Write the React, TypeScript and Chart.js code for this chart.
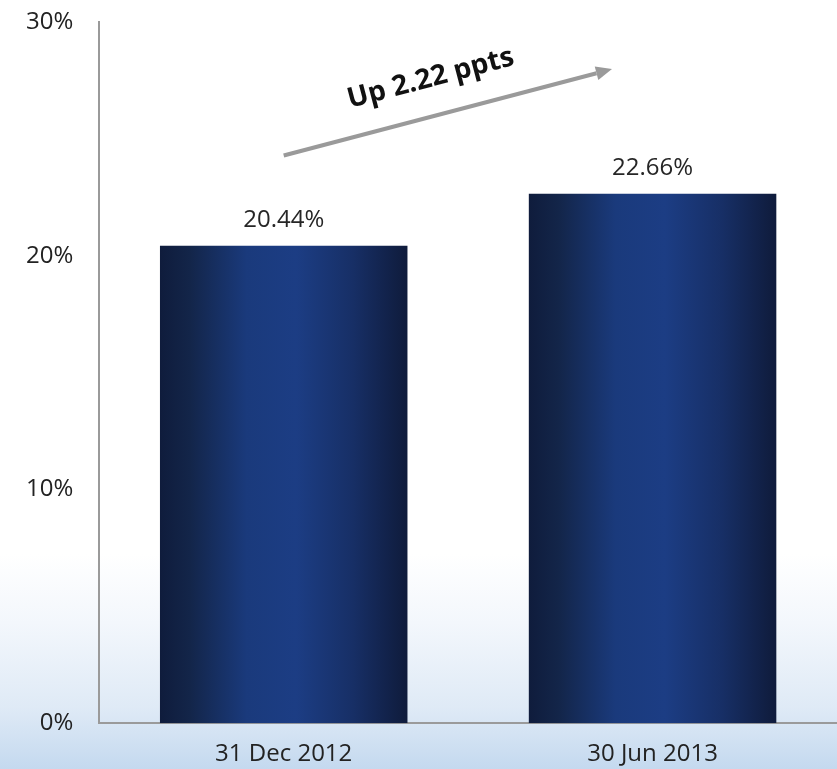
import React, { useEffect, useRef } from "react";
import { Chart, registerables } from "chart.js";

Chart.register(...registerables);

const categories = ["31 Dec 2012", "30 Jun 2013"];
const ratioValues = [20.44, 22.66];
const valueLabels = ["20.44%", "22.66%"];
const yTicks = [0, 10, 20, 30];
const arrowText = "Up 2.22 ppts";
// arrow endpoints in data space: [category index, value]
const arrowStart = [0, 24.3];
const arrowEnd = [0.89, 28.0];

const FONT = "'Open Sans', 'DejaVu Sans', sans-serif";
const BAR_PCT = 0.671;

const overlayPlugin = {
  id: "overlay",
  afterDatasetsDraw(chart: any) {
    const ctx = chart.ctx;
    const xs = chart.scales.x;
    const ys = chart.scales.y;
    ctx.save();
    // value labels
    ctx.font = `24px ${FONT}`;
    ctx.fillStyle = "#262626";
    ctx.textAlign = "center";
    ctx.textBaseline = "middle";
    const meta = chart.getDatasetMeta(0);
    meta.data.forEach((bar: any, i: number) => {
      ctx.fillText(valueLabels[i], bar.x, bar.y - 26);
    });
    // arrow
    const x1 = xs.getPixelForValue(arrowStart[0]);
    const y1 = ys.getPixelForValue(arrowStart[1]);
    const x2 = xs.getPixelForValue(arrowEnd[0]);
    const y2 = ys.getPixelForValue(arrowEnd[1]);
    const ang = Math.atan2(y2 - y1, x2 - x1);
    const head = 16;
    const hx = x2 - head * Math.cos(ang);
    const hy = y2 - head * Math.sin(ang);
    ctx.strokeStyle = "#9a9a9a";
    ctx.fillStyle = "#9a9a9a";
    ctx.lineWidth = 4;
    ctx.beginPath();
    ctx.moveTo(x1, y1);
    ctx.lineTo(hx, hy);
    ctx.stroke();
    ctx.beginPath();
    ctx.moveTo(x2, y2);
    ctx.lineTo(hx + 7 * Math.sin(ang), hy - 7 * Math.cos(ang));
    ctx.lineTo(hx - 7 * Math.sin(ang), hy + 7 * Math.cos(ang));
    ctx.closePath();
    ctx.fill();
    // arrow text
    const mx = (x1 + x2) / 2;
    const my = (y1 + y2) / 2;
    ctx.translate(mx, my);
    ctx.rotate(ang);
    ctx.font = `bold 28px ${FONT}`;
    ctx.fillStyle = "#111";
    ctx.textAlign = "center";
    ctx.textBaseline = "middle";
    ctx.fillText(arrowText, -8, -37);
    ctx.restore();
  },
};

export default function App() {
  const ref = useRef<HTMLCanvasElement>(null);
  useEffect(() => {
    if (!ref.current) return;
    const chart = new Chart(ref.current, {
      type: "bar",
      data: {
        labels: categories,
        datasets: [
          {
            data: ratioValues,
            categoryPercentage: 1,
            barPercentage: BAR_PCT,
            backgroundColor: (c: any) => {
              const chart = c.chart;
              const xs = chart.scales?.x;
              if (!xs || !chart.chartArea) return "#1c3d84";
              const center = xs.getPixelForValue(c.dataIndex);
              const half = ((xs.width / categories.length) * BAR_PCT) / 2;
              const g = chart.ctx.createLinearGradient(center - half, 0, center + half, 0);
              g.addColorStop(0, "#0f1c3c");
              g.addColorStop(0.12, "#132549");
              g.addColorStop(0.35, "#1a3a7c");
              g.addColorStop(0.55, "#1c3d84");
              g.addColorStop(0.78, "#172f66");
              g.addColorStop(1, "#0f1b3b");
              return g;
            },
            borderWidth: 0,
          },
        ],
      },
      options: {
        animation: false,
        responsive: false,
        layout: { padding: { top: -2, right: 0, bottom: -17, left: 0 } },
        plugins: { legend: { display: false }, tooltip: { enabled: false } },
        scales: {
          x: {
            grid: { display: false, drawTicks: false },
            border: { color: "#9a9a9a", width: 2 },
            ticks: { color: "#222", font: { family: FONT, size: 24 }, padding: 17 },
          },
          y: {
            min: 0,
            max: 30,
            afterBuildTicks: (s: any) => {
              s.ticks = yTicks.map((v) => ({ value: v }));
            },
            grid: { display: false, drawTicks: false },
            border: { color: "#9a9a9a", width: 2 },
            ticks: {
              color: "#222",
              font: { family: FONT, size: 24 },
              padding: 26,
              callback: (v: any) => `${v}%`,
            },
          },
        },
      },
      plugins: [overlayPlugin],
    });
    return () => chart.destroy();
  }, []);
  return (
    <div
      style={{
        position: "absolute",
        left: 0,
        top: 0,
        width: 837,
        height: 769,
        overflow: "hidden",
        background:
          "linear-gradient(to bottom, #ffffff 0%, #ffffff 72%, #f3f7fc 81%, #dfeaf6 92%, #c4d9ef 100%)",
      }}
    >
      <canvas
        ref={ref}
        width={837}
        height={787}
        style={{ display: "block", position: "absolute", left: 0, top: -18 }}
      />
    </div>
  );
}
